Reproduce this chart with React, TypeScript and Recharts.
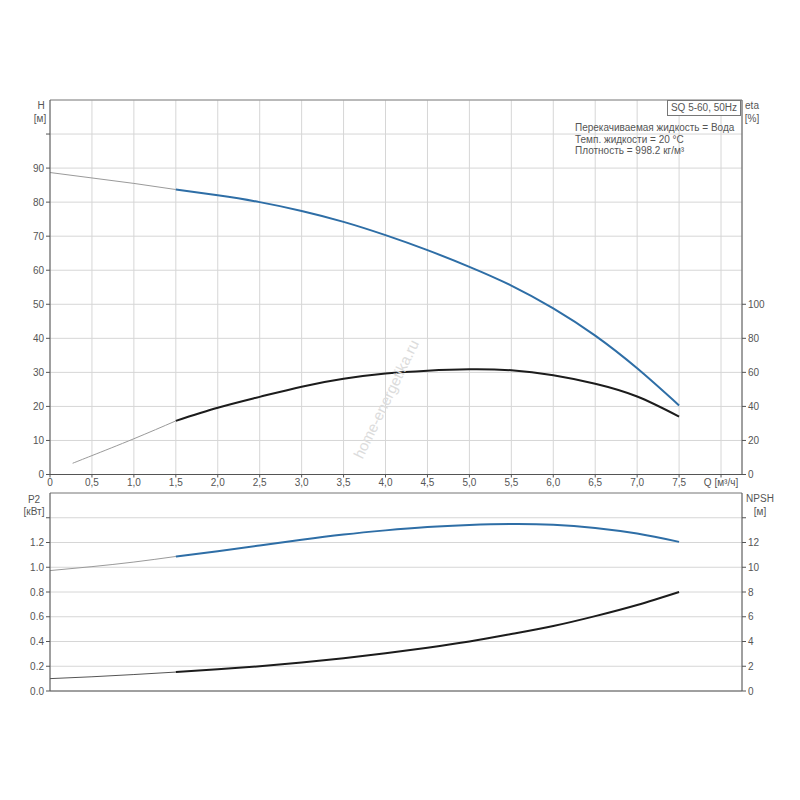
import React from 'react';
import { LineChart, Line, XAxis, YAxis, CartesianGrid, ReferenceLine } from 'recharts';

// ---- data ----
const qValues = [0, 0.5, 1.0, 1.5, 2.0, 2.5, 3.0, 3.5, 4.0, 4.5, 5.0, 5.5, 6.0, 6.5, 7.0, 7.5];
const headValues = [88.7, 87.1, 85.5, 83.7, 82.0, 80.0, 77.4, 74.2, 70.3, 65.9, 61.0, 55.5, 48.8, 40.8, 31.2, 20.3];
const etaQ = [0.27, 0.5, 1.0, 1.5, 2.0, 2.5, 3.0, 3.5, 4.0, 4.5, 5.0, 5.5, 6.0, 6.5, 7.0, 7.5];
const etaValues = [6.6, 11.1, 21.0, 31.5, 39.2, 45.6, 51.6, 56.2, 59.3, 61.0, 61.8, 61.2, 58.3, 53.3, 45.8, 34.0];
const p2Values = [0.973, 1.005, 1.042, 1.087, 1.13, 1.176, 1.222, 1.264, 1.298, 1.325, 1.342, 1.35, 1.344, 1.318, 1.272, 1.205];
const npshValues = [1.0, 1.15, 1.33, 1.53, 1.75, 2.0, 2.3, 2.65, 3.05, 3.5, 4.0, 4.6, 5.25, 6.05, 6.95, 8.0];

const xTicks = [0, 0.5, 1.0, 1.5, 2.0, 2.5, 3.0, 3.5, 4.0, 4.5, 5.0, 5.5, 6.0, 6.5, 7.0, 7.5, 8.0];
const hTicks = [0, 10, 20, 30, 40, 50, 60, 70, 80, 90, 100];
const etaTicks = [0, 20, 40, 60, 80, 100];
const p2Ticks = [0, 0.2, 0.4, 0.6, 0.8, 1.0, 1.2, 1.4];
const npshTicks = [0, 2, 4, 6, 8, 10, 12, 14];

const SPLIT_Q = 1.5;
const X_MAX = 8.25;

function split(qs: number[], vs: number[]) {
  const rows = qs.map((q, i) => ({ q, v: vs[i] }));
  return {
    low: rows.filter((r) => r.q <= SPLIT_Q),
    high: rows.filter((r) => r.q >= SPLIT_Q),
  };
}

const head = split(qValues, headValues);
const eta = split(etaQ, etaValues);
const p2 = split(qValues, p2Values);
const npsh = split(qValues, npshValues);

const AXIS = '#555';
const GRID = '#d6d6d6';
const BLUE = '#2e6ea6';
const BLACK = '#1c1c1c';
const THIN = '#9a9a9a';
const tickStyle = { fontSize: 10, fill: '#555', fontFamily: 'Liberation Sans, Arial, sans-serif' };

const fmtQ = (v: number) => (v === 8 ? 'Q [м³/ч]' : v === 0 ? '0' : v.toFixed(1).replace('.', ','));

const label = (text: string, x: number, y: number, extra: React.CSSProperties = {}) => (
  <div
    style={{
      position: 'absolute',
      left: x,
      top: y,
      transform: 'translate(-50%, -50%)',
      fontSize: 10,
      color: '#555',
      whiteSpace: 'nowrap',
      lineHeight: 1,
      ...extra,
    }}
  >
    {text}
  </div>
);

export default function App() {
  return (
    <div
      style={{
        position: 'absolute',
        left: 0,
        top: 0,
        width: 800,
        height: 800,
        background: '#fff',
        fontFamily: 'Liberation Sans, Arial, sans-serif',
        overflow: 'hidden',
      }}
    >
      <div style={{ position: 'absolute', left: 0, top: 0 }}>
        <LineChart width={800} height={492} margin={{ top: 100, right: 0, bottom: 0, left: 0 }}>
          <CartesianGrid stroke={GRID} yAxisId="h" />
          <XAxis
            dataKey="q"
            type="number"
            domain={[0, X_MAX]}
            ticks={xTicks}
            tickFormatter={fmtQ}
            height={17.5}
            tickSize={3}
            tickMargin={1}
            tick={tickStyle}
            stroke={AXIS}
            interval={0}
            allowDuplicatedCategory={false}
          />
          <YAxis
            yAxisId="h"
            type="number"
            domain={[0, 110]}
            ticks={hTicks}
            tickFormatter={(v: number) => (v === 100 ? '' : String(v))}
            width={50}
            tickSize={4}
            tickMargin={2}
            tick={tickStyle}
            stroke={AXIS}
            interval={0}
          />
          <YAxis
            yAxisId="eta"
            orientation="right"
            type="number"
            domain={[0, 220]}
            ticks={etaTicks}
            width={58}
            tickSize={4}
            tickMargin={2}
            tick={tickStyle}
            stroke={AXIS}
            interval={0}
          />
          <ReferenceLine yAxisId="h" y={110} stroke="#888" />
          <Line yAxisId="h" data={head.low} dataKey="v" type="natural" stroke={THIN} strokeWidth={1} dot={false} isAnimationActive={false} />
          <Line yAxisId="h" data={head.high} dataKey="v" type="natural" stroke={BLUE} strokeWidth={2} dot={false} isAnimationActive={false} />
          <Line yAxisId="eta" data={eta.low} dataKey="v" type="natural" stroke={THIN} strokeWidth={1} dot={false} isAnimationActive={false} />
          <Line yAxisId="eta" data={eta.high} dataKey="v" type="natural" stroke={BLACK} strokeWidth={2} dot={false} isAnimationActive={false} />
        </LineChart>
      </div>

      <div style={{ position: 'absolute', left: 0, top: 492 }}>
        <LineChart width={800} height={220} margin={{ top: 1, right: 0, bottom: 20, left: 0 }}>
          <CartesianGrid stroke={GRID} yAxisId="p2" />
          <XAxis
            dataKey="q"
            type="number"
            domain={[0, X_MAX]}
            ticks={xTicks}
            tick={false}
            tickLine={false}
            height={1}
            stroke={AXIS}
            interval={0}
          />
          <YAxis
            yAxisId="p2"
            type="number"
            domain={[0, 1.6]}
            ticks={p2Ticks}
            tickFormatter={(v: number) => (Math.abs(v - 1.4) < 1e-9 ? '' : v.toFixed(1))}
            width={50}
            tickSize={4}
            tickMargin={2}
            tick={tickStyle}
            stroke={AXIS}
            interval={0}
          />
          <YAxis
            yAxisId="npsh"
            orientation="right"
            type="number"
            domain={[0, 16]}
            ticks={npshTicks}
            tickFormatter={(v: number) => (v === 14 ? '' : String(v))}
            width={58}
            tickSize={4}
            tickMargin={2}
            tick={tickStyle}
            stroke={AXIS}
            interval={0}
          />
          <ReferenceLine yAxisId="p2" y={1.6} stroke="#888" />
          <Line yAxisId="p2" data={p2.low} dataKey="v" type="natural" stroke={THIN} strokeWidth={1} dot={false} isAnimationActive={false} />
          <Line yAxisId="p2" data={p2.high} dataKey="v" type="natural" stroke={BLUE} strokeWidth={2} dot={false} isAnimationActive={false} />
          <Line yAxisId="npsh" data={npsh.low} dataKey="v" type="natural" stroke="#555" strokeWidth={1} dot={false} isAnimationActive={false} />
          <Line yAxisId="npsh" data={npsh.high} dataKey="v" type="natural" stroke={BLACK} strokeWidth={2} dot={false} isAnimationActive={false} />
        </LineChart>
      </div>

      {/* axis titles */}
      {label('H', 41, 106)}
      {label('[м]', 40, 119)}
      {label('eta', 752, 106)}
      {label('[%]', 752, 119)}
      {label('P2', 34, 500)}
      {label('[кВт]', 34, 512)}
      {label('NPSH', 760, 499)}
      {label('[м]', 760, 512)}

      {/* info box */}
      <div
        style={{
          position: 'absolute',
          left: 667,
          top: 100,
          width: 74,
          height: 16,
          border: '1px solid #777',
          boxSizing: 'border-box',
          fontSize: 10,
          color: '#555',
          lineHeight: '14px',
          textAlign: 'center',
          whiteSpace: 'nowrap',
          background: '#fff',
        }}
      >
        SQ 5-60, 50Hz
      </div>
      <div
        style={{
          position: 'absolute',
          left: 575,
          top: 122,
          fontSize: 10,
          color: '#555',
          lineHeight: '11.7px',
          whiteSpace: 'nowrap',
        }}
      >
        <div>Перекачиваемая жидкость = Вода</div>
        <div>Темп. жидкости = 20 °C</div>
        <div>Плотность = 998.2 кг/м³</div>
      </div>

      {/* watermark */}
      <div
        style={{
          position: 'absolute',
          left: 386,
          top: 399,
          transform: 'translate(-50%, -50%) rotate(-64deg)',
          fontSize: 15,
          color: '#dcdcdc',
          whiteSpace: 'nowrap',
        }}
      >
        home-energetika.ru
      </div>
    </div>
  );
}
